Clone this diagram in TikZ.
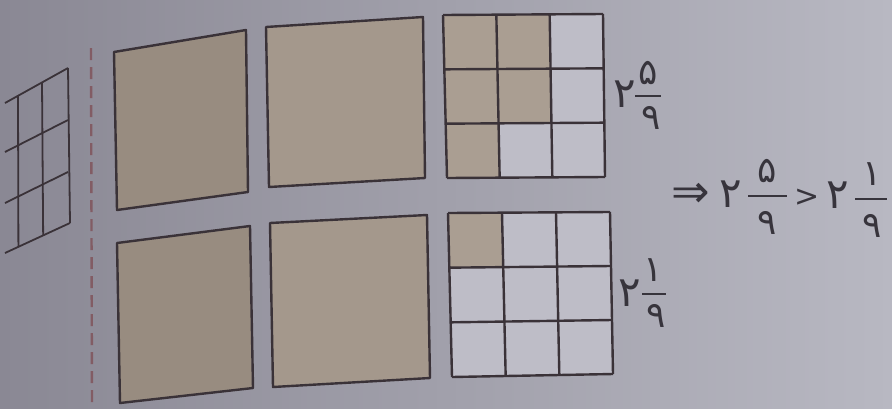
\documentclass[tikz,border=0pt]{standalone}
\usepackage{fontspec}
\newfontfamily\arabicfont[Script=Arabic]{DejaVu Sans}
\newfontfamily\symfont{DejaVu Sans}
\usetikzlibrary{calc}
\definecolor{bgL}{RGB}{138,136,148}
\definecolor{bgR}{RGB}{184,184,194}
\definecolor{cellE}{RGB}{190,189,199}
\definecolor{tanA}{RGB}{152,140,128}
\definecolor{tanB}{RGB}{164,152,140}
\definecolor{tanC}{RGB}{170,158,146}
\definecolor{ink}{RGB}{58,50,56}
\definecolor{dashc}{RGB}{130,92,100}
\definecolor{txt}{RGB}{55,52,60}
\tikzset{
  edge/.style={draw=ink, line width=2.4pt, line join=round},
  thin/.style={draw=ink, line width=1.8pt},
  big/.style={text=txt, inner sep=0pt, font=\arabicfont\fontsize{42}{42}\selectfont},
  small/.style={text=txt, inner sep=0pt, font=\arabicfont\fontsize{36}{36}\selectfont},
  bar/.style={draw=txt, line width=1.7pt},
}
\newcommand\mkgrid[5]{%
  \foreach \k in {0,1,2,3}{
    \coordinate (#1t\k) at ($#2!\k/3!#3$);
    \coordinate (#1b\k) at ($#5!\k/3!#4$);
  }
  \foreach \k in {0,1,2,3}{\foreach \m in {0,1,2,3}{
    \coordinate (#1-\k-\m) at ($(#1t\k)!\m/3!(#1b\k)$);
  }}
}
\begin{document}
\begin{tikzpicture}[x=1pt,y=-1pt]
\useasboundingbox (0,0) rectangle (892,408);
\shade[left color=bgL, right color=bgR] (0,0) rectangle (892,408);

% left partial grid
\coordinate (h0a) at (5,103); \coordinate (h0b) at (68,68);
\coordinate (h1a) at (5,152); \coordinate (h1b) at (68,120);
\coordinate (h2a) at (5,203); \coordinate (h2b) at (68,172);
\coordinate (h3a) at (5,253); \coordinate (h3b) at (70,223);
\foreach \r in {0,1,2,3}{ \draw[thin] (h\r a) -- (h\r b); }
\draw[thin] ($(h0a)!13/63!(h0b)$) -- ($(h3a)!13/63!(h3b)$);
\draw[thin] ($(h0a)!37/63!(h0b)$) -- ($(h3a)!37/63!(h3b)$);
\draw[thin] (h0b) -- (h3b);

% dashed separator
\coordinate (d0) at (91,48); \coordinate (d1) at (92,408);
\draw[dashc, line width=2.4pt, dash pattern=on 12pt off 7pt] (d0) -- (d1);

% whole squares
\draw[edge, fill=tanA] (114,52) -- (246,30) -- (248,192) -- (117,210) -- cycle;
\draw[edge, fill=tanA] (117,243) -- (250,226) -- (253,388) -- (120,403) -- cycle;
\draw[edge, fill=tanB] (266,27) -- (423,17) -- (425,178) -- (269,187) -- cycle;
\draw[edge, fill=tanB] (270,223) -- (427,215) -- (430,378) -- (273,387) -- cycle;

% grids
\mkgrid{A}{(443,15)}{(603,14)}{(605,177)}{(447,178)}
\mkgrid{B}{(448,213)}{(610,212)}{(613,374)}{(452,377)}
\fill[cellE] (A-0-0) -- (A-3-0) -- (A-3-3) -- (A-0-3) -- cycle;
\fill[cellE] (B-0-0) -- (B-3-0) -- (B-3-3) -- (B-0-3) -- cycle;
\foreach \i/\j in {0/0,1/0,0/1,1/1,0/2}{
  \pgfmathtruncatemacro\ii{\i+1}\pgfmathtruncatemacro\jj{\j+1}
  \fill[tanC] (A-\i-\j) -- (A-\ii-\j) -- (A-\ii-\jj) -- (A-\i-\jj) -- cycle;
}
\fill[tanC] (B-0-0) -- (B-1-0) -- (B-1-1) -- (B-0-1) -- cycle;
\foreach \g in {A,B}{
  \foreach \k in {0,1,2,3}{
    \draw[edge] (\g-\k-0) -- (\g-\k-3);
    \draw[edge] (\g-0-\k) -- (\g-3-\k);
  }
}

% labels beside grids
\node[big]   (a2)  at (625,94)  {۲};
\node[small] (a5)  at (648,73)  {۵};
\node[small] (a9)  at (651,118) {۹};
\coordinate (ab0) at (635,96); \coordinate (ab1) at (661,96);
\draw[bar] (ab0) -- (ab1);

\node[big]   (b2)  at (630,293) {۲};
\node[small] (b1)  at (653,270) {۱};
\node[small] (b9)  at (656,316) {۹};
\coordinate (bb0) at (642,294); \coordinate (bb1) at (666,294);
\draw[bar] (bb0) -- (bb1);

% conclusion
\node[text=txt, inner sep=0pt, font=\symfont\fontsize{46}{46}\selectfont] (imp) at (691,195) {⇒};
\node[big]   (c2)  at (731,194) {۲};
\node[small] (c5)  at (767,171) {۵};
\node[small] (c9)  at (767,223) {۹};
\coordinate (cb0) at (748,196); \coordinate (cb1) at (787,196);
\draw[bar] (cb0) -- (cb1);
\node[text=txt, inner sep=0pt, font=\symfont\fontsize{30}{30}\selectfont] (gt) at (807,198) {>};
\node[big]   (d2)  at (838,195) {۲};
\node[small] (d1n) at (872,174) {۱};
\node[small] (d9)  at (872,226) {۹};
\coordinate (db0) at (855,199); \coordinate (db1) at (887,199);
\draw[bar] (db0) -- (db1);
\end{tikzpicture}
\end{document}
